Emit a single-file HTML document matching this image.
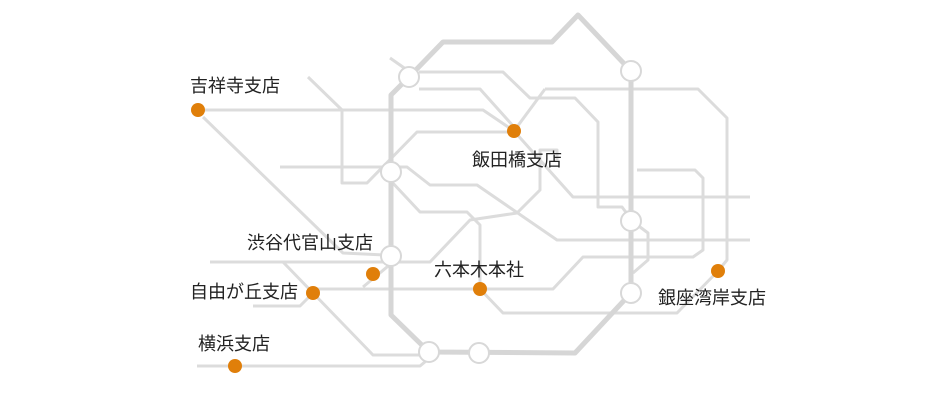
<!DOCTYPE html>
<html><head><meta charset="utf-8"><style>
html,body{margin:0;padding:0;background:#fff;}
svg{display:block;}
text{font-family:"Liberation Sans","Noto Sans CJK JP",sans-serif;font-size:18px;fill:#222;}
</style></head><body>
<svg width="940" height="400" viewBox="0 0 940 400" xmlns="http://www.w3.org/2000/svg">
<g fill="none" stroke="#dcdcdc" stroke-width="3" stroke-linejoin="round">
<polyline points="198,110 483,110 514,131"/>
<polyline points="419,89 480,89 514,127"/>
<polyline points="419,72 503,72 530,98 575,98 598,122 598,207 622,207 631,219"/>
<polyline points="545,89 698,89 727,118 727,260 718,271 677,313 503,313 480,289"/>
<polyline points="514,131 545,89"/>
<polyline points="308,77 342,110 342,183 367,183 417,132 514,132"/>
<polyline points="280,167 407,167 430,185 477,185 557,240 750,240"/>
<polyline points="514,131 573,197 750,197"/>
<polyline points="637,170 695,170 703,178 703,250 693,257 583,257 553,289 313,289"/>
<polyline points="640,227 648,233 648,260 633,273"/>
<polyline points="390,180 420,212 467,212 480,225 480,289"/>
<polyline points="390,262 430,262 470,220 517,213 540,190 540,150 557,150 557,160"/>
<polyline points="210,262 390,262"/>
<polyline points="203,117 343,253 385,255"/>
<polyline points="283,262 313,293 373,355 420,355"/>
<polyline points="253,306 300,306 313,293"/>
<polyline points="363,287 393,262"/>
<polyline points="197,366 420,366 432,356"/>
<polyline points="390,58 410,72"/>
</g>
<g fill="none" stroke="#d6d6d6" stroke-width="5" stroke-linejoin="round">
<polyline points="429,352 575,353 631,293 631,71 578,15 552,42 443,42 409,77 391,95 391,315 429,352"/>
</g>
<g fill="#fff" stroke="#d8d8d8" stroke-width="2">
<circle cx="409" cy="77" r="10"/>
<circle cx="631" cy="71" r="10"/>
<circle cx="391" cy="172" r="10"/>
<circle cx="631" cy="221" r="10"/>
<circle cx="391" cy="256" r="10"/>
<circle cx="631" cy="293" r="10"/>
<circle cx="429" cy="352" r="10"/>
<circle cx="479" cy="353" r="10"/>
</g>
<g fill="#e07f0a">
<circle cx="198" cy="110" r="7"/>
<circle cx="514" cy="131" r="7"/>
<circle cx="373" cy="274" r="7"/>
<circle cx="313" cy="293" r="7"/>
<circle cx="480" cy="289" r="7"/>
<circle cx="718" cy="271" r="7"/>
<circle cx="235" cy="366" r="7"/>
</g>
<text x="190" y="92">吉祥寺支店</text>
<text x="472" y="166">飯田橋支店</text>
<text x="247" y="249">渋谷代官山支店</text>
<text x="190" y="298">自由が丘支店</text>
<text x="198" y="350">横浜支店</text>
<text x="434" y="276">六本木本社</text>
<text x="658" y="304">銀座湾岸支店</text>
</svg>
</body></html>
